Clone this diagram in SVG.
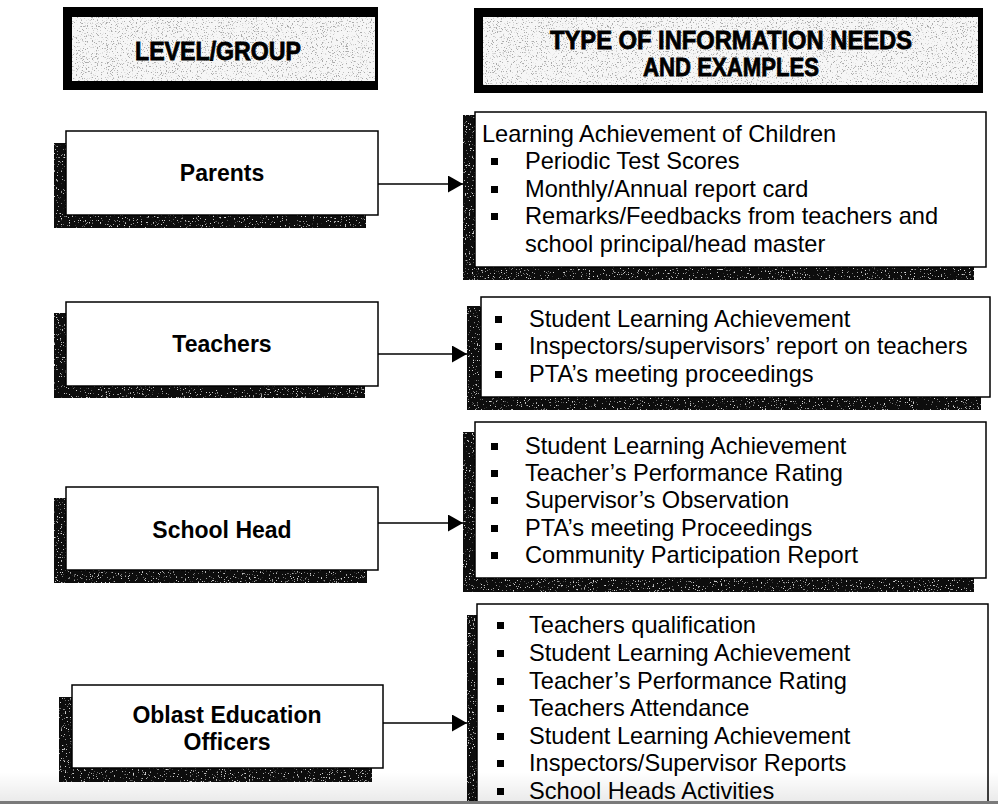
<svg xmlns="http://www.w3.org/2000/svg" width="998" height="804" viewBox="0 0 998 804">
<defs>
<style>
.lbl{font-family:"Liberation Sans",Arial,sans-serif;font-weight:bold;font-size:23px;fill:#000;text-anchor:middle}
.itm{font-family:"Liberation Sans",Arial,sans-serif;font-size:23.6px;fill:#000}
.hdr{font-family:"Liberation Sans",Arial,sans-serif;font-weight:bold;fill:#000;stroke:#000;stroke-width:0.8;text-anchor:middle}
.box{fill:#fff;stroke:#000;stroke-width:1.5}
.shd{fill:#0a0a0a;filter:url(#speckLight)}
.frame{fill:#000}
.hbg{fill:#f6f6f6;filter:url(#speckDark)}
.con{stroke:#000;stroke-width:1.5;fill:none;marker-end:url(#arr)}
.bul{fill:#000}
</style>
<filter id="speckLight" x="0" y="0" width="100%" height="100%">
<feTurbulence type="fractalNoise" baseFrequency="0.75" numOctaves="2" seed="4" result="n"/>
<feColorMatrix in="n" type="matrix" values="0 0 0 0 0.7  0 0 0 0 0.7  0 0 0 0 0.7  9 0 0 0 -5.9" result="s"/>
<feComposite in="s" in2="SourceGraphic" operator="in" result="s2"/>
<feMerge><feMergeNode in="SourceGraphic"/><feMergeNode in="s2"/></feMerge>
</filter>
<filter id="speckDark" x="0" y="0" width="100%" height="100%">
<feTurbulence type="fractalNoise" baseFrequency="0.8" numOctaves="2" seed="7" result="n"/>
<feColorMatrix in="n" type="matrix" values="0 0 0 0 0.4  0 0 0 0 0.4  0 0 0 0 0.4  9 0 0 0 -5.3" result="s"/>
<feComposite in="s" in2="SourceGraphic" operator="in" result="s2"/>
<feMerge><feMergeNode in="SourceGraphic"/><feMergeNode in="s2"/></feMerge>
</filter>
<marker id="arr" markerUnits="userSpaceOnUse" markerWidth="16" markerHeight="18" refX="15" refY="8.5" orient="auto">
<path d="M0,0 L15,8.5 L0,17 Z" fill="#000"/>
</marker>
<linearGradient id="fade" x1="0" y1="0" x2="0" y2="1">
<stop offset="0" stop-color="#000" stop-opacity="0"/>
<stop offset="1" stop-color="#000" stop-opacity="0.08"/>
</linearGradient>
</defs>
<rect width="998" height="804" fill="#fff"/>

<g id="header-level">
<rect class="frame" x="63" y="7" width="315" height="83"/>
<rect class="hbg" x="72" y="17" width="303" height="64"/>
<text class="hdr" x="218" y="60" font-size="26" textLength="166" lengthAdjust="spacingAndGlyphs">LEVEL/GROUP</text>
</g>

<g id="header-type">
<rect class="frame" x="474" y="8" width="509" height="85"/>
<rect class="hbg" x="483" y="17" width="495" height="68"/>
<text class="hdr" x="731" y="49" font-size="26" textLength="362" lengthAdjust="spacingAndGlyphs">TYPE OF INFORMATION NEEDS</text>
<text class="hdr" x="731" y="76" font-size="26" textLength="176" lengthAdjust="spacingAndGlyphs">AND EXAMPLES</text>
</g>

<g id="node-parents">
<rect class="shd" x="54" y="143" width="312" height="85"/>
<rect class="box" x="66" y="131" width="312" height="84"/>
<text class="lbl" x="222" y="181">Parents</text>
</g>

<g id="info-parents">
<rect class="shd" x="463" y="115" width="511" height="165"/>
<rect class="box" x="475" y="112" width="511" height="155"/>
<text class="itm" x="482" y="142">Learning Achievement of Children</text>
<rect class="bul" x="491" y="158" width="7" height="7"/>
<text class="itm" x="525" y="169">Periodic Test Scores</text>
<rect class="bul" x="491" y="186" width="7" height="7"/>
<text class="itm" x="525" y="197">Monthly/Annual report card</text>
<rect class="bul" x="491" y="213" width="7" height="7"/>
<text class="itm" x="525" y="224">Remarks/Feedbacks from teachers and</text>
<text class="itm" x="525" y="252">school principal/head master</text>
</g>

<g id="node-teachers">
<rect class="shd" x="54" y="313" width="311" height="85"/>
<rect class="box" x="66" y="302" width="312" height="84"/>
<text class="lbl" x="222" y="352">Teachers</text>
</g>

<g id="info-teachers">
<rect class="shd" x="467" y="306" width="514" height="104"/>
<rect class="box" x="481" y="297" width="509" height="100"/>
<rect class="bul" x="495" y="316" width="7" height="7"/>
<text class="itm" x="529" y="327">Student Learning  Achievement</text>
<rect class="bul" x="495" y="343" width="7" height="7"/>
<text class="itm" x="529" y="354">Inspectors/supervisors’ report on teachers</text>
<rect class="bul" x="495" y="371" width="7" height="7"/>
<text class="itm" x="529" y="382">PTA’s meeting proceedings</text>
</g>

<g id="node-schoolhead">
<rect class="shd" x="54" y="498" width="313" height="85"/>
<rect class="box" x="66" y="487" width="312" height="83"/>
<text class="lbl" x="222" y="538">School Head</text>
</g>

<g id="info-schoolhead">
<rect class="shd" x="463" y="432" width="511" height="160"/>
<rect class="box" x="475" y="422" width="511" height="156"/>
<rect class="bul" x="491" y="443" width="7" height="7"/>
<text class="itm" x="525" y="454">Student Learning Achievement</text>
<rect class="bul" x="491" y="470" width="7" height="7"/>
<text class="itm" x="525" y="481">Teacher’s Performance Rating</text>
<rect class="bul" x="491" y="497" width="7" height="7"/>
<text class="itm" x="525" y="508">Supervisor’s Observation</text>
<rect class="bul" x="491" y="525" width="7" height="7"/>
<text class="itm" x="525" y="536">PTA’s meeting Proceedings</text>
<rect class="bul" x="491" y="552" width="7" height="7"/>
<text class="itm" x="525" y="563">Community Participation Report</text>
</g>

<g id="node-oblast">
<rect class="shd" x="59" y="697" width="313" height="85"/>
<rect class="box" x="72" y="685" width="311" height="83"/>
<text class="lbl" x="227" y="723">Oblast Education</text>
<text class="lbl" x="227" y="750">Officers</text>
</g>

<g id="info-oblast">
<rect class="shd" x="467" y="615" width="510" height="220"/>
<rect class="box" x="477" y="604" width="511" height="230"/>
<rect class="bul" x="497" y="622" width="7" height="7"/>
<text class="itm" x="529" y="633">Teachers qualification</text>
<rect class="bul" x="497" y="650" width="7" height="7"/>
<text class="itm" x="529" y="661">Student Learning Achievement</text>
<rect class="bul" x="497" y="678" width="7" height="7"/>
<text class="itm" x="529" y="689">Teacher’s Performance Rating</text>
<rect class="bul" x="497" y="705" width="7" height="7"/>
<text class="itm" x="529" y="716">Teachers Attendance</text>
<rect class="bul" x="497" y="733" width="7" height="7"/>
<text class="itm" x="529" y="744">Student Learning Achievement</text>
<rect class="bul" x="497" y="760" width="7" height="7"/>
<text class="itm" x="529" y="771">Inspectors/Supervisor Reports</text>
<rect class="bul" x="497" y="788" width="7" height="7"/>
<text class="itm" x="529" y="799">School Heads Activities</text>
</g>

<g id="connectors">
<line class="con" x1="378" y1="184" x2="463" y2="184"/>
<line class="con" x1="378" y1="354" x2="467" y2="354"/>
<line class="con" x1="378" y1="523" x2="463" y2="523"/>
<line class="con" x1="383" y1="723" x2="467" y2="723"/>
</g>

<rect x="0" y="772" width="998" height="29" fill="url(#fade)"/>
<rect x="0" y="801" width="998" height="3" fill="#7a7a7a"/>
</svg>
